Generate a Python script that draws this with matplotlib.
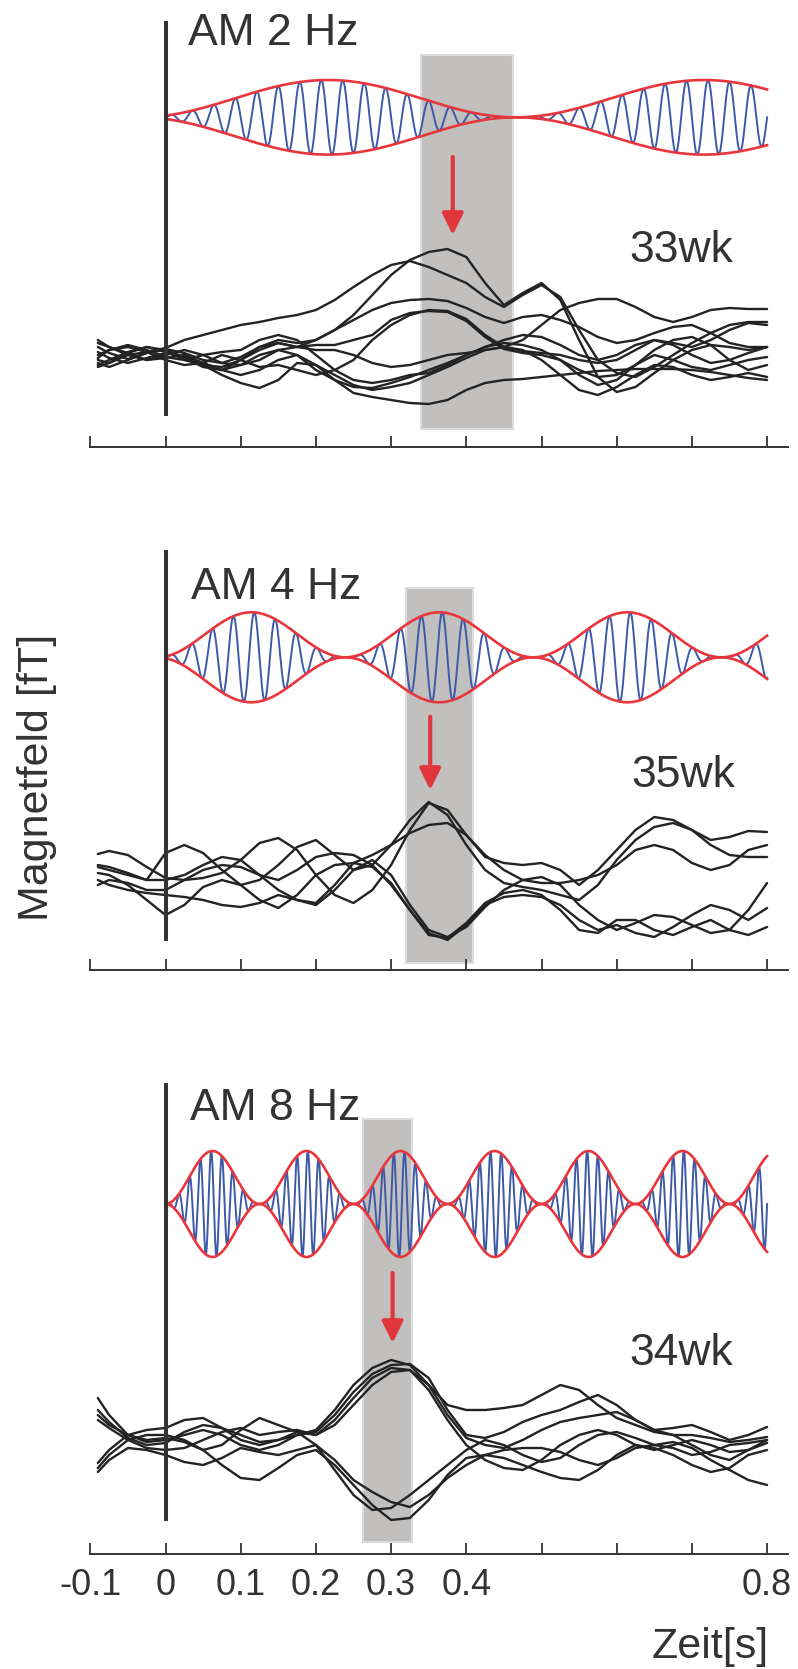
import numpy as np
import matplotlib
matplotlib.use("Agg")
import matplotlib.pyplot as plt
from matplotlib.patches import Rectangle

# ---------------- data ----------------
T = [-0.09, -0.075, -0.05, -0.025, 0.0, 0.025, 0.05, 0.075, 0.1, 0.125, 0.15, 0.175,
     0.2, 0.225, 0.25, 0.275, 0.3, 0.325, 0.35, 0.375, 0.4, 0.425, 0.45, 0.475, 0.5,
     0.525, 0.55, 0.575, 0.6, 0.625, 0.65, 0.675, 0.7, 0.725, 0.75, 0.775, 0.8]

TRACES_33WK = [
    [8, 2, -4, 2, 6, 2, -5, -8, -2, 8, 12, 8, 15, 25, 40, 60, 80, 95, 103, 106, 98, 72, 50, 62, 72, 55, 15, -22, -37, -32, -18, -5, 5, 10, 8, 5, 8],
    [-5, -8, 0, 3, 7, 15, 20, 25, 30, 33, 37, 40, 45, 55, 68, 80, 90, 94, 88, 80, 72, 58, 48, 60, 70, 58, 25, -5, -18, -22, -12, 0, 12, 22, 30, 33, 33],
    [12, 8, 2, -5, -3, 0, -8, -15, -5, 8, 15, 12, 15, 25, 35, 45, 52, 55, 56, 54, 47, 38, 32, 38, 40, 35, 28, 18, 12, 15, 22, 28, 30, 22, 12, 8, 8],
    [0, 5, 8, 3, -5, -10, -8, 0, -5, -12, -10, -15, -20, -15, -5, 15, 30, 40, 45, 44, 36, 20, 8, 4, 2, 0, -5, -8, -5, 5, 15, 10, 0, -8, -5, 2, 8],
    [-10, -5, 3, 8, 3, -3, -12, -15, -10, 0, 5, 8, 10, 10, 15, 20, 35, 42, 44, 43, 34, 18, 6, 2, 0, -5, -15, -22, -20, -10, 0, -5, -12, -15, -10, -5, -2],
    [15, 8, 0, -5, 0, 5, 0, -8, -10, -5, 5, 0, -15, -25, -32, -33, -28, -22, -15, -8, 0, 8, 12, 10, 5, -5, -20, -30, -25, -10, 5, 15, 18, 10, -5, -15, -10],
    [-3, 5, 10, 5, -2, -5, 0, 3, 5, 15, 20, 15, 0, -15, -25, -28, -25, -20, -18, -10, 0, 8, 15, 20, 18, 10, 0, -5, 0, 10, 15, 12, 8, 15, 25, 32, 30],
    [-8, -12, -5, 2, 5, -2, -10, -20, -28, -33, -25, -8, -10, -20, -30, -35, -32, -28, -20, -12, -3, 5, 8, 5, -5, -20, -35, -40, -32, -20, -10, -12, -20, -25, -22, -18, -22],
    [3, -3, -8, -3, 2, -2, -8, -15, -20, -15, -5, 0, -10, -25, -38, -42, -45, -48, -49, -45, -35, -28, -25, -24, -22, -20, -18, -16, -15, -14, -14, -14, -15, -17, -20, -23, -25],
    [-12, -8, 2, 8, 5, -5, -10, -12, -5, 5, 12, 8, 5, 5, 0, -8, -12, -10, -5, 0, 2, 5, 8, 15, 30, 45, 52, 56, 56, 48, 38, 33, 38, 45, 47, 46, 46],
]

TRACES_35WK = [
    [21, 24, 20, 8, -3, -5, -3, 2, 15, 32, 37, 25, 0, -20, -28, -15, 10, 45, 72, 65, 40, 18, 12, 10, 12, 5, -10, 5, 25, 45, 58, 55, 45, 35, 38, 44, 43],
    [8, 5, 0, -5, 22, 30, 22, 5, -10, -5, 10, 28, 35, 20, 5, 10, 30, 55, 73, 60, 30, 5, -8, -12, -15, -20, -25, -10, 15, 35, 48, 52, 45, 30, 20, 18, 18],
    [10, 8, 2, -5, -5, 0, 10, 18, 15, 0, -15, -25, -28, -10, 12, 20, 30, 42, 50, 52, 40, 20, 5, -5, -8, -8, -5, 0, 10, 25, 30, 25, 12, 5, 10, 25, 30],
    [-10, -5, -8, -15, -15, -5, 5, 10, 8, 0, -5, 5, 18, 22, 20, 10, -10, -35, -58, -65, -50, -30, -22, -20, -22, -30, -45, -55, -50, -58, -62, -52, -40, -30, -35, -45, -33],
    [2, 0, -10, -25, -40, -30, -12, -5, -10, -25, -33, -20, 0, 10, 12, 8, -8, -35, -60, -63, -48, -28, -18, -15, -20, -35, -55, -58, -45, -45, -55, -60, -52, -45, -55, -60, -52],
    [-5, -10, -15, -18, -20, -22, -25, -30, -32, -28, -20, -25, -30, -15, 5, 15, 0, -30, -55, -62, -52, -32, -15, -5, -2, -10, -30, -45, -55, -48, -40, -42, -50, -58, -55, -35, -8],
]

TRACES_34WK = [
    [42, 25, 5, -2, 0, 5, 10, 5, -5, -10, -5, 5, 10, 30, 55, 72, 80, 75, 55, 35, 30, 30, 32, 35, 45, 55, 50, 35, 22, 15, 8, 5, 5, 2, -2, 0, 3],
    [30, 18, 2, -5, -3, 8, 15, 12, 5, -2, 0, 5, 8, 25, 48, 66, 75, 76, 62, 30, 5, 2, 8, 18, 25, 30, 38, 45, 35, 20, 10, 5, -5, -15, -20, -10, 0],
    [25, 15, 5, 0, 2, -2, -10, -5, 10, 22, 15, 8, 5, 20, 42, 62, 72, 70, 55, 25, 2, -5, -8, 0, 10, 18, 22, 25, 28, 20, 10, 12, 15, 8, 0, 5, 13],
    [20, 12, 0, -8, -10, -8, 0, 8, 12, 5, 8, 10, 5, 15, 35, 55, 68, 70, 50, 20, -5, -20, -28, -30, -20, -5, 5, 10, 5, -5, -10, -5, 0, -5, -12, -10, -3],
    [-23, -10, 5, 10, 12, 20, 22, 12, 0, -5, 0, 8, -5, -30, -55, -70, -68, -55, -40, -25, -10, 0, -5, -15, -22, -18, -5, 5, 8, 2, -5, -2, -8, -20, -30, -40, -45],
    [-28, -15, 0, 5, 5, 0, -10, -25, -38, -40, -28, -15, -10, -25, -45, -65, -80, -78, -60, -35, -18, -15, -18, -25, -32, -38, -40, -30, -15, -5, -8, -15, -25, -32, -28, -15, -10],
    [-32, -20, -8, -10, -15, -22, -25, -18, -8, -12, -15, -10, -5, -20, -40, -52, -62, -67, -55, -38, -25, -15, -10, -8, -8, -12, -20, -25, -18, -8, -5, -8, -15, -12, -5, -3, 0],
]

AM_TITLES = ["AM 2 Hz", "AM 4 Hz", "AM 8 Hz"]
AGES = ["33wk", "35wk", "34wk"]
MOD_FREQ = [2.0, 4.0, 8.0]          # Hz
MOD_OFFSET = [0.034, 0.011, 0.0]    # s
CARRIER_FREQ = [35.0, 36.0, 70.0]   # Hz
WINDOWS = [(0.340, 0.462), (0.320, 0.409), (0.263, 0.328)]
ARROW_T = [0.382, 0.352, 0.302]
XTICKS = [-0.1, 0.0, 0.1, 0.2, 0.3, 0.4, 0.5, 0.6, 0.7, 0.8]
XTICKLABELS = ["-0.1", "0", "0.1", "0.2", "0.3", "0.4", "", "", "", "0.8"]

# ---------------- layout (pixel geometry) ----------------
W, H = 798, 1669
X0_PX, XSCALE = 165.5, 752.0     # pixel of t=0, pixels per second
XLIM = (-0.1, 0.828)
LAYOUT = [
    dict(axis=447, top=5, base=355, vline=(20.7, 416), rect=(55, 429), am=117.3, amp=37.3,
         arrow=(157, 235), age_bl=262, age_x=629, title_bl=45, title_x=188),
    dict(axis=970, top=530, base=875, vline=(550, 941), rect=(588, 963), am=657.3, amp=45.0,
         arrow=(716.7, 790), age_bl=787, age_x=631, title_bl=599, title_x=191),
    dict(axis=1554, top=1070, base=1440, vline=(1083, 1521), rect=(1119, 1542), am=1204, amp=53.0,
         arrow=(1273, 1343), age_bl=1365, age_x=629, title_bl=1120, title_x=190),
]
ALL_TRACES = [TRACES_33WK, TRACES_35WK, TRACES_34WK]

TXT = "#333333"
plt.rcParams["font.family"] = ["Liberation Sans", "DejaVu Sans"]

fig = plt.figure(figsize=(W / 100, H / 100), dpi=100)
left = (X0_PX + XSCALE * XLIM[0]) / W
width = XSCALE * (XLIM[1] - XLIM[0]) / W

for i, L in enumerate(LAYOUT):
    ax = fig.add_axes([left, 1 - L["axis"] / H, width, (L["axis"] - L["top"]) / H])
    base = L["base"]
    v = lambda py: base - py
    ax.set_xlim(*XLIM)
    ax.set_ylim(v(L["axis"]), v(L["top"]))
    for s in ("left", "right", "top"):
        ax.spines[s].set_visible(False)
    ax.spines["bottom"].set_linewidth(1.4)
    ax.spines["bottom"].set_color(TXT)
    ax.set_yticks([])
    ax.set_xticks(XTICKS)
    ax.tick_params(axis="x", direction="in", length=8, width=1.3, colors=TXT, pad=10)
    if i < 2:
        ax.set_xticklabels([])
    else:
        ax.set_xticklabels(XTICKLABELS, fontsize=26)

    # response window
    t0, t1 = WINDOWS[i]
    ax.add_patch(Rectangle((t0, v(L["rect"][1])), t1 - t0, L["rect"][1] - L["rect"][0],
                           facecolor="#c1c0bf", edgecolor="#dcdcdc", lw=1.5, zorder=1))

    # AM stimulus
    ts = np.linspace(0, 0.8, 6000)
    env = np.sin(np.pi * MOD_FREQ[i] * (ts + MOD_OFFSET[i])) ** 2
    c = v(L["am"])
    amp = L["amp"]
    ax.plot(ts, c + amp * env * np.sin(2 * np.pi * CARRIER_FREQ[i] * ts),
            color="#3d5aa9", lw=1.4, zorder=4)
    ax.plot(ts, c + amp * env, color="#e8363c", lw=1.9, zorder=5)
    ax.plot(ts, c - amp * env, color="#e8363c", lw=1.9, zorder=5)

    # arrow
    ax.annotate("", xy=(ARROW_T[i], v(L["arrow"][1])), xytext=(ARROW_T[i], v(L["arrow"][0])),
                arrowprops=dict(arrowstyle="-|>,head_length=0.65,head_width=0.32",
                                mutation_scale=20, color="#e0363c", lw=3.0,
                                shrinkA=0, shrinkB=0), zorder=6)

    # MEG traces
    for tr in ALL_TRACES[i]:
        ax.plot(T, tr, color="#232323", lw=1.7, zorder=3,
                solid_joinstyle="round", solid_capstyle="round")

    # stimulus onset line
    ax.plot([0, 0], [v(L["vline"][1]), v(L["vline"][0])], color=TXT, lw=2.9,
            zorder=7, solid_capstyle="butt")

    # labels
    ax.text((L["title_x"] - X0_PX) / XSCALE, v(L["title_bl"]), AM_TITLES[i],
            fontsize=32, color=TXT, ha="left", va="baseline", zorder=8)
    ax.text((L["age_x"] - X0_PX) / XSCALE, v(L["age_bl"]), AGES[i],
            fontsize=32, color=TXT, ha="left", va="baseline", zorder=8)

fig.text(37 / W, 1 - 777 / H, "Magnetfeld [fT]", rotation=90, ha="center", va="center",
         fontsize=31, color=TXT)
fig.text(652 / W, 1 - 1658 / H, "Zeit[s]", ha="left", va="baseline", fontsize=31, color=TXT)

fig.savefig("out.png", dpi=100)
